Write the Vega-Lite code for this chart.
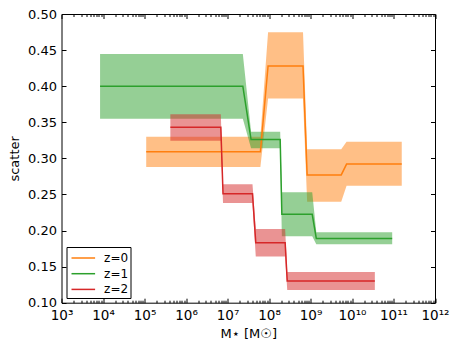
{
  "$schema": "https://vega.github.io/schema/vega-lite/v6.json",
  "autosize": {"type": "none"},
  "padding": {"left": 61.5, "top": 14, "right": 23, "bottom": 48.3},
  "width": 373.5,
  "height": 288.7,
  "config": {
    "view": {"stroke": "#000000", "strokeWidth": 1},
    "font": "DejaVu Sans",
    "axis": {"grid": false, "domain": false, "labelColor": "#000000", "titleColor": "#000000", "tickColor": "#000000", "labelFont": "DejaVu Sans", "titleFont": "DejaVu Sans", "titleFontWeight": "normal"},
    "legend": {"labelFont": "DejaVu Sans"}
  },
  "data": {"values": [
    {"series": "z=0", "x": 110000, "y": 0.309, "lo": 0.288, "hi": 0.330},
    {"series": "z=0", "x": 62000000, "y": 0.309, "lo": 0.288, "hi": 0.330},
    {"series": "z=0", "x": 95000000, "y": 0.428, "lo": 0.383, "hi": 0.4746},
    {"series": "z=0", "x": 660000000, "y": 0.428, "lo": 0.383, "hi": 0.4746},
    {"series": "z=0", "x": 830000000, "y": 0.277, "lo": 0.240, "hi": 0.3125},
    {"series": "z=0", "x": 5500000000, "y": 0.277, "lo": 0.240, "hi": 0.3125},
    {"series": "z=0", "x": 7400000000, "y": 0.292, "lo": 0.262, "hi": 0.323},
    {"series": "z=0", "x": 158000000000, "y": 0.292, "lo": 0.262, "hi": 0.323},
    {"series": "z=1", "x": 8500, "y": 0.400, "lo": 0.355, "hi": 0.4446},
    {"series": "z=1", "x": 23400000, "y": 0.400, "lo": 0.355, "hi": 0.4446},
    {"series": "z=1", "x": 37000000, "y": 0.326, "lo": 0.314, "hi": 0.337},
    {"series": "z=1", "x": 186000000, "y": 0.326, "lo": 0.314, "hi": 0.337},
    {"series": "z=1", "x": 204000000, "y": 0.2224, "lo": 0.192, "hi": 0.253},
    {"series": "z=1", "x": 1100000000, "y": 0.2224, "lo": 0.192, "hi": 0.253},
    {"series": "z=1", "x": 1380000000, "y": 0.189, "lo": 0.181, "hi": 0.1975},
    {"series": "z=1", "x": 93000000000, "y": 0.189, "lo": 0.181, "hi": 0.1975},
    {"series": "z=2", "x": 420000, "y": 0.343, "lo": 0.3245, "hi": 0.361},
    {"series": "z=2", "x": 6900000, "y": 0.343, "lo": 0.3245, "hi": 0.361},
    {"series": "z=2", "x": 7800000, "y": 0.251, "lo": 0.238, "hi": 0.264},
    {"series": "z=2", "x": 40000000, "y": 0.251, "lo": 0.238, "hi": 0.264},
    {"series": "z=2", "x": 48000000, "y": 0.183, "lo": 0.164, "hi": 0.202},
    {"series": "z=2", "x": 245000000, "y": 0.183, "lo": 0.164, "hi": 0.202},
    {"series": "z=2", "x": 275000000, "y": 0.130, "lo": 0.1175, "hi": 0.1425},
    {"series": "z=2", "x": 35500000000, "y": 0.130, "lo": 0.1175, "hi": 0.1425}
  ]},
  "resolve": {"axis": {"x": "independent", "y": "independent"}},
  "layer": [
    {
      "mark": {"type": "area", "fillOpacity": 0.5},
      "encoding": {
        "x": {"field": "x", "type": "quantitative",
          "scale": {"type": "log", "domain": [1000, 1000000000000], "nice": false},
          "axis": {"orient": "bottom", "values": [1e3,1e4,1e5,1e6,1e7,1e8,1e9,1e10,1e11,1e12], "ticks": false, "labelPadding": 6, "labelFontSize": 13.5, "labelFlush": false,
            "labelExpr": "'10' + (round(log(datum.value)/LN10) >= 10 ? '¹' + ['⁰','¹','²'][round(log(datum.value)/LN10)-10] : ['⁰','¹','²','³','⁴','⁵','⁶','⁷','⁸','⁹'][round(log(datum.value)/LN10)])",
            "title": "M⋆ [M☉]", "titleFontSize": 13, "titlePadding": 5}},
        "y": {"field": "lo", "type": "quantitative",
          "scale": {"domain": [0.1, 0.5], "nice": false, "zero": false},
          "axis": {"orient": "left", "values": [0.1,0.15,0.2,0.25,0.3,0.35,0.4,0.45,0.5], "format": ".2f", "ticks": false, "labelPadding": 5, "labelFontSize": 13, "title": "scatter", "titleFontSize": 13, "titlePadding": 6}},
        "y2": {"field": "hi"},
        "fill": {"field": "series", "type": "nominal", "scale": {"domain": ["z=0","z=1","z=2"], "range": ["#ff7f0e","#2ca02c","#d62728"]},
          "legend": {"title": null, "orient": "bottom-left", "offset": 5, "strokeColor": "#000000", "fillColor": "#ffffff", "padding": 2, "symbolType": "M-0.75,0H2.2", "symbolSize": 256, "symbolStrokeWidth": 1.5, "labelFontSize": 12, "labelColor": "#000000", "labelOffset": 17.6, "rowPadding": 0.7}}
      }
    },
    {
      "mark": {"type": "line", "strokeWidth": 1.5},
      "encoding": {
        "x": {"field": "x", "type": "quantitative",
          "axis": {"orient": "bottom", "values": [1e3,1e4,1e5,1e6,1e7,1e8,1e9,1e10,1e11,1e12], "labels": false, "tickSize": -4.5, "title": null}},
        "y": {"field": "y", "type": "quantitative",
          "axis": {"orient": "left", "values": [0.1,0.15,0.2,0.25,0.3,0.35,0.4,0.45,0.5], "labels": false, "tickSize": -4.5, "title": null}},
        "stroke": {"field": "series", "type": "nominal", "scale": {"domain": ["z=0","z=1","z=2"], "range": ["#ff7f0e","#2ca02c","#d62728"]},
          "legend": {"title": null, "orient": "bottom-left", "offset": 5, "strokeColor": "#000000", "fillColor": "#ffffff", "padding": 2, "symbolType": "M-0.75,0H2.2", "symbolSize": 256, "symbolStrokeWidth": 1.5, "labelFontSize": 12, "labelColor": "#000000", "labelOffset": 17.6, "rowPadding": 0.7}}
      }
    },
    {
      "mark": {"type": "point", "opacity": 0},
      "encoding": {
        "x": {"field": "x", "type": "quantitative",
          "axis": {"orient": "bottom", "labels": false, "tickSize": -2.5, "title": null,
            "values": [2e3,3e3,4e3,5e3,6e3,7e3,8e3,9e3,2e4,3e4,4e4,5e4,6e4,7e4,8e4,9e4,2e5,3e5,4e5,5e5,6e5,7e5,8e5,9e5,2e6,3e6,4e6,5e6,6e6,7e6,8e6,9e6,2e7,3e7,4e7,5e7,6e7,7e7,8e7,9e7,2e8,3e8,4e8,5e8,6e8,7e8,8e8,9e8,2e9,3e9,4e9,5e9,6e9,7e9,8e9,9e9,2e10,3e10,4e10,5e10,6e10,7e10,8e10,9e10,2e11,3e11,4e11,5e11,6e11,7e11,8e11,9e11]}},
        "y": {"field": "y", "type": "quantitative",
          "axis": {"orient": "right", "values": [0.1,0.15,0.2,0.25,0.3,0.35,0.4,0.45,0.5], "labels": false, "tickSize": -4.5, "title": null}}
      }
    },
    {
      "mark": {"type": "point", "opacity": 0},
      "encoding": {
        "x": {"field": "x", "type": "quantitative",
          "axis": {"orient": "top", "values": [1e3,1e4,1e5,1e6,1e7,1e8,1e9,1e10,1e11,1e12], "labels": false, "tickSize": -4.5, "title": null}},
        "y": {"field": "y", "type": "quantitative", "axis": null}
      }
    },
    {
      "mark": {"type": "point", "opacity": 0},
      "encoding": {
        "x": {"field": "x", "type": "quantitative",
          "axis": {"orient": "top", "labels": false, "tickSize": -2.5, "title": null,
            "values": [2e3,3e3,4e3,5e3,6e3,7e3,8e3,9e3,2e4,3e4,4e4,5e4,6e4,7e4,8e4,9e4,2e5,3e5,4e5,5e5,6e5,7e5,8e5,9e5,2e6,3e6,4e6,5e6,6e6,7e6,8e6,9e6,2e7,3e7,4e7,5e7,6e7,7e7,8e7,9e7,2e8,3e8,4e8,5e8,6e8,7e8,8e8,9e8,2e9,3e9,4e9,5e9,6e9,7e9,8e9,9e9,2e10,3e10,4e10,5e10,6e10,7e10,8e10,9e10,2e11,3e11,4e11,5e11,6e11,7e11,8e11,9e11]}},
        "y": {"field": "y", "type": "quantitative", "axis": null}
      }
    }
  ]
}
